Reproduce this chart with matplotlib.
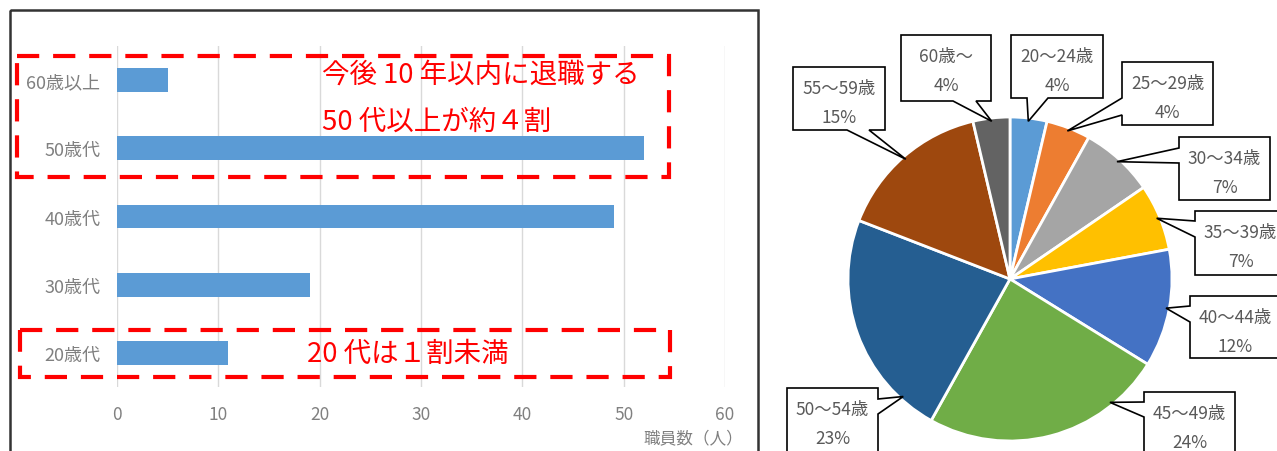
import matplotlib
matplotlib.use("Agg")
import matplotlib.pyplot as plt
from matplotlib.patches import Rectangle, Polygon
import numpy as np

plt.rcParams['font.family'] = ['Noto Sans CJK JP', 'DejaVu Sans']
plt.rcParams['lines.scale_dashes'] = False

# -----------------------------
# Data
# -----------------------------

age_groups = ['20歳代', '30歳代', '40歳代', '50歳代', '60歳以上']
staff_counts = [11, 19, 49, 52, 5]

pie_labels = ['20～24歳', '25～29歳', '30～34歳', '35～39歳', '40～44歳',
              '45～49歳', '50～54歳', '55～59歳', '60歳～']
pie_counts = [5, 6, 10, 9, 16, 33, 31, 21, 5]
pie_colors = ['#5B9BD5', '#ED7D31', '#A5A5A5', '#FFC000', '#4472C4',
              '#70AD47', '#255E91', '#9E480E', '#636363']

note_top = ['今後 10 年以内に退職する', '50 代以上が約４割']
note_bottom = '20 代は１割未満'

W, H = 1277, 452

# callout boxes (pixel coords, top-left origin): x0, y0, x1, y1, side, a, b, frac
callouts = [
    (1011, 36, 1103, 99, 'bottom', 1027, 1048, 0.5),
    (1122, 63, 1213, 126, 'left', 99, 116, 0.5),
    (1179, 138, 1270, 201, 'left', 149, 164, 0.5),
    (1195, 212, 1286, 276, 'left', 222, 238, 0.5),
    (1190, 297, 1281, 359, 'left', 307, 323, 0.5),
    (1144, 393, 1235, 456, 'left', 403, 418, 0.22),
    (787, 389, 878, 456, 'right', 400, 415, 0.16),
    (793, 68, 885, 131, 'bottom', 847, 869, 0.5),
    (901, 36, 991, 102, 'bottom', 953, 976, 0.5),
]

fig = plt.figure(figsize=(W / 100, H / 100), dpi=100)

# -----------------------------
# Bar chart
# -----------------------------

ax = fig.add_axes([117 / W, 1 - 388 / H, 608 / W, 341 / H])
ypos = np.arange(len(age_groups))
ax.barh(ypos, staff_counts, height=0.35, color='#5B9BD5', zorder=2)
ax.set_xlim(0, 60)
ax.set_ylim(-0.5, len(age_groups) - 0.5)
ax.set_xticks(range(0, 61, 10))
ax.set_yticks(ypos)
ax.set_yticklabels(age_groups)
ax.tick_params(length=0, labelcolor='#808080')
ax.tick_params(axis='y', pad=12, labelsize=13)
ax.tick_params(axis='x', pad=13, labelsize=12.5)
ax.grid(axis='x', color='#D9D9D9', linewidth=1, zorder=0)
for s in ax.spines.values():
    s.set_visible(False)

# -----------------------------
# Pie chart
# -----------------------------

pax = fig.add_axes([0, 0, 1, 1])
wedges, _ = pax.pie(pie_counts, colors=pie_colors, startangle=90, counterclock=False,
                    center=(1010, H - 280), radius=162,
                    wedgeprops=dict(edgecolor='white', linewidth=2))
pax.set_xlim(0, W)
pax.set_ylim(0, H)
pax.set_aspect('auto')
pax.set_axis_off()

# -----------------------------
# Overlay (top-left pixel coords)
# -----------------------------

ov = fig.add_axes([0, 0, 1, 1])
ov.set_xlim(0, W)
ov.set_ylim(H, 0)
ov.set_axis_off()

# frame around bar chart
ov.add_patch(Rectangle((10, 11), 748, 470, fill=False, edgecolor='#333333', linewidth=1.8))

ov.text(743, 440, '職員数（人）', ha='right', va='center', fontsize=12, color='#808080')

# red dashed highlight boxes
for (x0, y0, x1, y1) in [(17, 57, 669, 178), (20, 331, 670, 378)]:
    ov.add_patch(Rectangle((x0, y0), x1 - x0, y1 - y0, fill=False, edgecolor='#FF0000',
                           linewidth=3, linestyle=(0, (16, 10))))

ov.text(322, 75, note_top[0], ha='left', va='center', fontsize=19.8, color='#FF0000')
ov.text(322, 122, note_top[1], ha='left', va='center', fontsize=19.8, color='#FF0000')
ov.text(307, 354, note_bottom, ha='left', va='center', fontsize=19.8, color='#FF0000')

# pie callouts
total = sum(pie_counts)
for w, lab, cnt, (x0, y0, x1, y1, side, a, b, frac) in zip(wedges, pie_labels, pie_counts, callouts):
    ang = np.deg2rad(w.theta2 - frac * (w.theta2 - w.theta1))
    cx, cy = w.center
    tx = cx + 0.98 * w.r * np.cos(ang)
    ty = H - (cy + 0.98 * w.r * np.sin(ang))
    if side == 'bottom':
        pts = [(x0, y0), (x1, y0), (x1, y1), (b, y1), (tx, ty), (a, y1), (x0, y1)]
    elif side == 'left':
        pts = [(x0, y0), (x1, y0), (x1, y1), (x0, y1), (x0, b), (tx, ty), (x0, a)]
    else:
        pts = [(x0, y0), (x1, y0), (x1, a), (tx, ty), (x1, b), (x1, y1), (x0, y1)]
    ov.add_patch(Polygon(pts, closed=True, facecolor='white', edgecolor='black', linewidth=1.2))
    xc = (x0 + x1) / 2
    ov.text(xc, y0 + 21, lab, ha='center', va='center', fontsize=12.5, color='#595959')
    ov.text(xc, y0 + 50, f'{round(cnt / total * 100)}%', ha='center', va='center',
            fontsize=12.5, color='#595959')

fig.savefig('out.png', dpi=100)
